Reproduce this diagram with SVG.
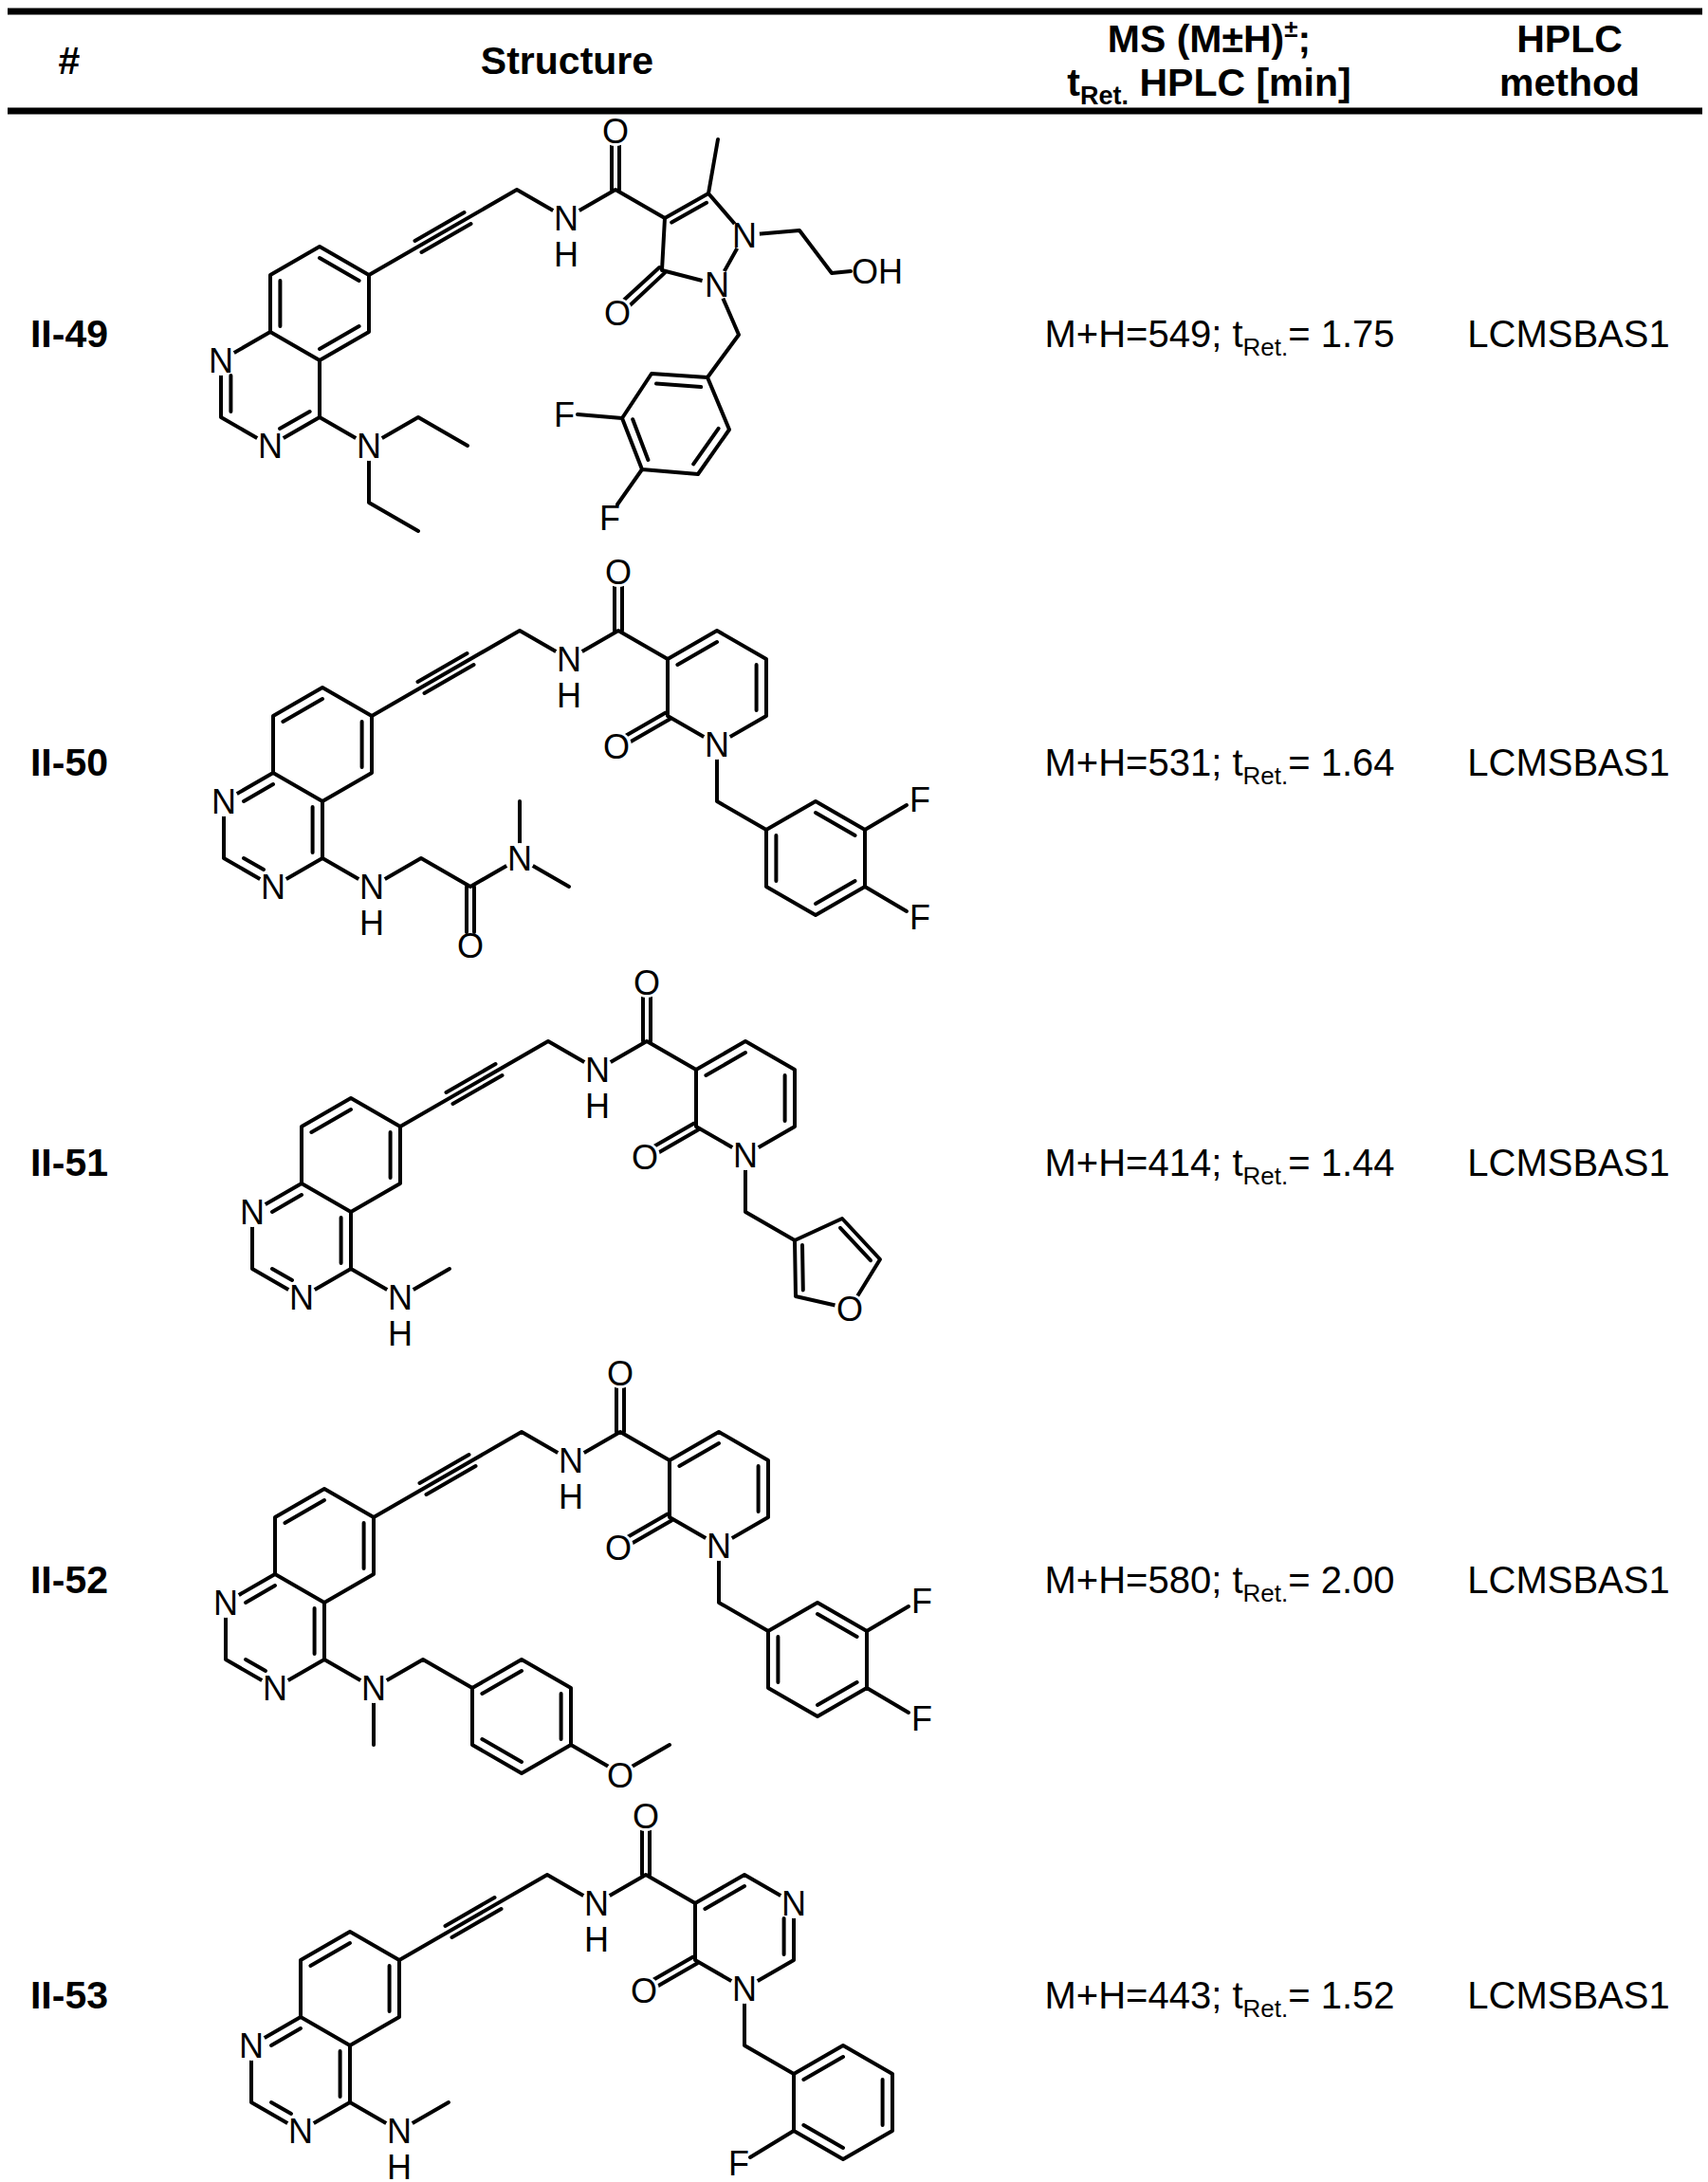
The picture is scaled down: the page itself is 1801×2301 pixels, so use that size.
<svg xmlns="http://www.w3.org/2000/svg" width="1801" height="2301" viewBox="0 0 1801 2301">
<style>
.b{stroke:#000;stroke-width:4;fill:none;stroke-linecap:round;stroke-linejoin:round}
.a{font-family:"Liberation Sans",Arial,sans-serif;font-size:36px;text-anchor:middle;fill:#000}
.m{fill:#fff}
.h{font-family:"Liberation Sans",Arial,sans-serif;font-size:41px;font-weight:bold;text-anchor:middle;fill:#000}
.t{font-family:"Liberation Sans",Arial,sans-serif;font-size:40px;text-anchor:middle;fill:#000}
.r{stroke:#000;stroke-width:7}
</style>
<defs>
<path id="kek2" class="b" d="M10.4,-54 L52,-78 M93.6,-54 L93.6,-6 M0,12 L-31,30 M-31,90 L-10,102 M41.6,36 L41.6,84"/>
<g id="core">
<path class="b" d="M0,0 L0,-60 L52,-90 L104,-60 L104,0 L52,30 Z M52,30 L52,90 L0,120 L-52,90 L-52,30 L0,0 M104,-60 L260,-150 L312,-120 L364,-150 L416,-120 M152.5,-96 L204.5,-126 M159.5,-84 L211.5,-114 M360,-150 L360,-200 M368,-150 L368,-200"/>
<circle class="m" cx="-52" cy="30" r="16"/><text class="a" x="-52" y="30" dy=".36em">N</text>
<circle class="m" cx="0" cy="120" r="16"/><text class="a" x="0" y="120" dy=".36em">N</text>
<circle class="m" cx="312" cy="-120" r="16"/><text class="a" x="312" y="-120" dy=".36em">N</text>
<text class="a" x="312" y="-82" dy=".36em">H</text>
<circle class="m" cx="364" cy="-212" r="16"/><text class="a" x="364" y="-212" dy=".36em">O</text>
</g>
<g id="pyridone">
<path class="b" d="M416,-120 L468,-150 L520,-120 L520,-60 L468,-30 L416,-60 Z M426.4,-114 L468,-138 M509.6,-114 L509.6,-66 M418,-56.5 L372,-30 M414,-63.5 L368,-37 M468,-30 L468,30 L520,60"/>
<circle class="m" cx="468" cy="-30" r="16"/><text class="a" x="468" y="-30" dy=".36em">N</text>
<circle class="m" cx="362" cy="-28" r="16"/><text class="a" x="362" y="-28" dy=".36em">O</text>
</g>
<g id="difluoro">
<path class="b" d="M520,60 L572,30 L624,60 L624,120 L572,150 L520,120 Z M572,42 L613.6,66 M613.6,114 L572,138 M530.4,114 L530.4,66 M624,60 L668,34 M624,120 L668,146"/>
<text class="a" x="682" y="28" dy=".36em">F</text>
<text class="a" x="682" y="152" dy=".36em">F</text>
</g>
<g id="nhme">
<path class="b" d="M52,90 L104,120 L156,90"/>
<circle class="m" cx="104" cy="120" r="16"/><text class="a" x="104" y="120" dy=".36em">N</text>
<text class="a" x="104" y="158" dy=".36em">H</text>
</g>
</defs>

<g id="header">
<line class="r" x1="8" y1="12" x2="1795" y2="12"/>
<line class="r" x1="8" y1="117" x2="1795" y2="117"/>
<text class="h" x="73" y="78">#</text>
<text class="h" x="598" y="78">Structure</text>
<text class="h" x="1275" y="55">MS (M±H)<tspan dy="-16" font-size="26">±</tspan><tspan dy="16">;</tspan></text>
<text class="h" x="1275" y="101">t<tspan dy="9" font-size="27">Ret.</tspan><tspan dy="-9"> HPLC [min]</tspan></text>
<text class="h" x="1655" y="55">HPLC</text>
<text class="h" x="1655" y="101">method</text>
</g>

<g id="row-II-49">
<text class="h" x="73" y="366">II-49</text>
<text class="t" x="1286" y="366">M+H=549; t<tspan dy="9" font-size="26">Ret.</tspan><tspan dy="-9">= 1.75</tspan></text>
<text class="t" x="1654" y="366">LCMSBAS1</text>
<g transform="translate(285,350)">
<path class="b" d="M10.4,-6 L10.4,-54 M52,-78 L93.6,-54 M93.6,-6 L52,18 M-41.6,46 L-41.6,84 M10,102 L41.6,84"/>
<use href="#core"/>
<path class="b" d="M416,-120 L462,-146 L500,-102 L471,-50 L413,-65 Z M423.2,-115.4 L460,-136.2 M462,-146 L472,-203 M415.7,-62.1 L376,-25 M410.3,-67.9 L370,-31 M500,-102 L558,-107 L592,-62 L612,-64 M471,-50 L494,3 L461,48 M461,48 L402,44 L371,91 L392,145 L451,150 L484,103 Z M454.2,58 L407,54.6 M382.2,92.2 L398.4,135 M446.2,139.4 L472.6,101.8 M371,91 L324,87 M392,145 L366,182"/>
<path class="b" d="M52,90 L104,120 L156,90 L208,120 M104,120 L104,180 L156,210"/>
<circle class="m" cx="500" cy="-102" r="16"/><text class="a" x="500" y="-102" dy=".36em">N</text>
<circle class="m" cx="471" cy="-50" r="16"/><text class="a" x="471" y="-50" dy=".36em">N</text>
<circle class="m" cx="366" cy="-20" r="16"/><text class="a" x="366" y="-20" dy=".36em">O</text>
<text class="a" x="640" y="-64" dy=".36em">OH</text>
<text class="a" x="310" y="87" dy=".36em">F</text>
<text class="a" x="358" y="196" dy=".36em">F</text>
<circle class="m" cx="104" cy="120" r="16"/><text class="a" x="104" y="120" dy=".36em">N</text>
</g>
</g>

<g id="row-II-50">
<text class="h" x="73" y="818">II-50</text>
<text class="t" x="1286" y="818">M+H=531; t<tspan dy="9" font-size="26">Ret.</tspan><tspan dy="-9">= 1.64</tspan></text>
<text class="t" x="1654" y="818">LCMSBAS1</text>
<g transform="translate(288,815)">
<use href="#kek2"/><use href="#core"/><use href="#pyridone"/><use href="#difluoro"/>
<path class="b" d="M52,90 L104,120 L156,90 L208,120 L260,90 L260,30 M260,90 L312,120 M204,120 L204,168 M212,120 L212,168"/>
<circle class="m" cx="104" cy="120" r="16"/><text class="a" x="104" y="120" dy=".36em">N</text>
<text class="a" x="104" y="158" dy=".36em">H</text>
<text class="a" x="208" y="182" dy=".36em">O</text>
<circle class="m" cx="260" cy="90" r="16"/><text class="a" x="260" y="90" dy=".36em">N</text>
</g>
</g>

<g id="row-II-51">
<text class="h" x="73" y="1240">II-51</text>
<text class="t" x="1286" y="1240">M+H=414; t<tspan dy="9" font-size="26">Ret.</tspan><tspan dy="-9">= 1.44</tspan></text>
<text class="t" x="1654" y="1240">LCMSBAS1</text>
<g transform="translate(318,1248)">
<use href="#kek2"/><use href="#core"/><use href="#pyridone"/><use href="#nhme"/>
<path class="b" d="M520,60 L570,37 L610,80 L578,132 L521,119 Z M528,65 L528.8,112.4 M568,46.8 L600,81.2"/>
<circle class="m" cx="578" cy="132" r="16"/><text class="a" x="578" y="132" dy=".36em">O</text>
</g>
</g>

<g id="row-II-52">
<text class="h" x="73" y="1680">II-52</text>
<text class="t" x="1286" y="1680">M+H=580; t<tspan dy="9" font-size="26">Ret.</tspan><tspan dy="-9">= 2.00</tspan></text>
<text class="t" x="1654" y="1680">LCMSBAS1</text>
<g transform="translate(290,1660)">
<use href="#kek2"/><use href="#core"/><use href="#pyridone"/><use href="#difluoro"/>
<path class="b" d="M52,90 L104,120 L104,180 M104,120 L156,90 L208,120 M208,120 L260,90 L312,120 L312,180 L260,210 L208,180 Z M218.4,126 L260,102 M301.6,126 L301.6,174 M260,198 L218.4,174 M312,180 L364,210 L416,180"/>
<circle class="m" cx="104" cy="120" r="16"/><text class="a" x="104" y="120" dy=".36em">N</text>
<circle class="m" cx="364" cy="212" r="16"/><text class="a" x="364" y="212" dy=".36em">O</text>
</g>
</g>

<g id="row-II-53">
<text class="h" x="73" y="2118">II-53</text>
<text class="t" x="1286" y="2118">M+H=443; t<tspan dy="9" font-size="26">Ret.</tspan><tspan dy="-9">= 1.52</tspan></text>
<text class="t" x="1654" y="2118">LCMSBAS1</text>
<g transform="translate(317,2127)">
<use href="#kek2"/><use href="#core"/><use href="#nhme"/>
<path class="b" d="M416,-120 L468,-150 L520,-120 L520,-60 L468,-30 L416,-60 Z M426.4,-114 L468,-138 M509.6,-104 L509.6,-66 M418,-56.5 L372,-30 M414,-63.5 L368,-37 M468,-30 L468,30 L520,60 M520,60 L572,30 L624,60 L624,120 L572,150 L520,120 Z M530.4,66 L572,42 M613.6,66 L613.6,114 M572,138 L530.4,114 M520,120 L474,148"/>
<circle class="m" cx="520" cy="-120" r="16"/><text class="a" x="520" y="-120" dy=".36em">N</text>
<circle class="m" cx="468" cy="-30" r="16"/><text class="a" x="468" y="-30" dy=".36em">N</text>
<circle class="m" cx="362" cy="-28" r="16"/><text class="a" x="362" y="-28" dy=".36em">O</text>
<text class="a" x="462" y="154" dy=".36em">F</text>
</g>
</g>
</svg>
